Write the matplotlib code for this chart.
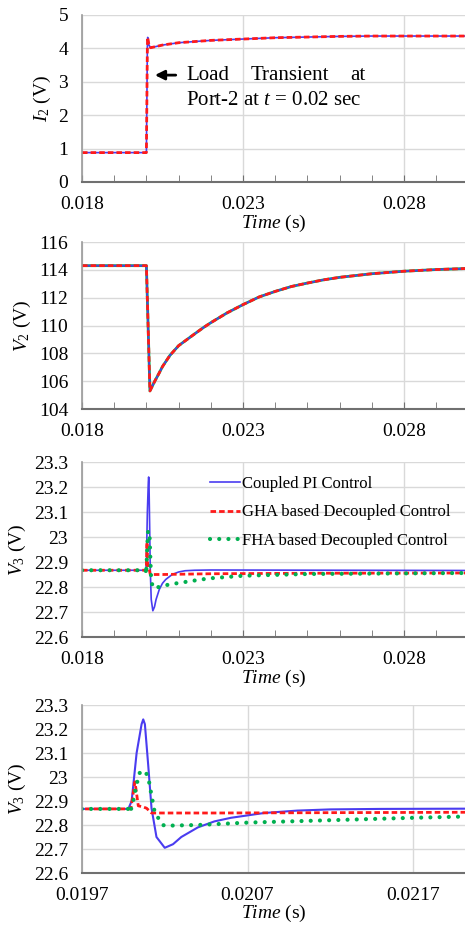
import matplotlib
matplotlib.use("Agg")
import matplotlib.pyplot as plt
from matplotlib.ticker import FixedLocator, MultipleLocator, FuncFormatter

plt.rcParams["font.family"] = ["Liberation Serif", "DejaVu Serif"]
plt.rcParams["mathtext.fontset"] = "custom"
plt.rcParams["mathtext.rm"] = "Liberation Serif"
plt.rcParams["mathtext.it"] = "Liberation Serif:italic"
plt.rcParams["font.size"] = 14

# tick positions
xticks_wide = [0.018, 0.023, 0.028]
xminor_wide = [0.019, 0.020, 0.021, 0.022, 0.024, 0.025, 0.026, 0.027, 0.029]
xticks_zoom = [0.0197, 0.0207, 0.0217]

# I2 step response at port 2
t_i2 = [0.018, 0.02000, 0.02003, 0.02004, 0.02008, 0.02013, 0.0205, 0.021,
        0.022, 0.023, 0.024, 0.025, 0.026, 0.027, 0.028, 0.030]
i2 = [0.88, 0.88, 4.05, 4.33, 4.10, 4.02, 4.10, 4.17,
      4.24, 4.28, 4.32, 4.34, 4.36, 4.37, 4.37, 4.37]

# V2 response
t_v2 = [0.018, 0.02000, 0.02011, 0.02026, 0.0204, 0.0205, 0.02073, 0.0210,
        0.0215, 0.02177, 0.0220, 0.0225, 0.0230, 0.0235, 0.0240, 0.0245,
        0.0250, 0.0255, 0.0260, 0.0270, 0.0280, 0.0290, 0.0300]
v2 = [114.3, 114.3, 105.3, 106.0, 106.6, 107.05, 107.85, 108.55,
      109.4, 109.85, 110.2, 110.9, 111.5, 112.05, 112.45, 112.8,
      113.05, 113.28, 113.46, 113.72, 113.9, 114.02, 114.1]

# V3 - coupled PI control
t_pi = [0.018, 0.01998, 0.02000, 0.02003, 0.02006, 0.02007, 0.02008, 0.02010,
        0.02012, 0.02015, 0.02020, 0.02025, 0.02030, 0.02040, 0.02050,
        0.02060, 0.02070, 0.02080, 0.02090, 0.02100, 0.02120, 0.02150,
        0.02200, 0.030]
v3_pi = [22.867, 22.867, 22.90, 23.10, 23.22, 23.24, 23.22, 23.05,
         22.87, 22.75, 22.705, 22.72, 22.75, 22.79, 22.815,
         22.83, 22.84, 22.85, 22.855, 22.86, 22.865, 22.867,
         22.868, 22.866]

# V3 - GHA based decoupled control
t_gha = [0.018, 0.019995, 0.02002, 0.02004, 0.02007, 0.02009, 0.02012,
         0.0205, 0.021, 0.022, 0.025, 0.030]
v3_gha = [22.867, 22.867, 22.98, 22.88, 22.875, 22.87, 22.85,
          22.85, 22.851, 22.853, 22.855, 22.856]

# V3 - FHA based decoupled control
t_fha = [0.018, 0.01998, 0.01999, 0.02001, 0.02003, 0.02005, 0.02008,
         0.02010, 0.020113, 0.02014, 0.02019, 0.0202, 0.0204, 0.0207,
         0.0212, 0.0217, 0.022, 0.023, 0.025, 0.030]
v3_fha = [22.867, 22.867, 22.85, 22.90, 22.97, 23.02, 23.025,
          23.0, 22.95, 22.85, 22.80, 22.797, 22.80, 22.81,
          22.82, 22.83, 22.835, 22.845, 22.852, 22.856]

labels = ["Coupled PI Control", "GHA based Decoupled Control",
          "FHA based Decoupled Control"]

BLUE = "#4a3cf0"
RED = "#ff1a1a"
GREEN = "#00b050"
W, H = 465, 927


def frame(ax, xlim, ylim, ystep, xticks, xminor=None):
    ax.set_xlim(*xlim)
    ax.set_ylim(*ylim)
    ax.yaxis.set_major_locator(MultipleLocator(ystep))
    ax.xaxis.set_major_locator(FixedLocator(xticks))
    if xminor:
        ax.xaxis.set_minor_locator(FixedLocator(xminor))
    ax.yaxis.set_major_formatter(FuncFormatter(lambda v, p: "{:g}".format(round(v, 4))))
    ax.xaxis.set_major_formatter(FuncFormatter(lambda v, p: "{:g}".format(round(v, 5))))
    ax.grid(True, color="#d9d9d9", lw=1)
    ax.set_axisbelow(True)
    for s in ["top", "right"]:
        ax.spines[s].set_visible(False)
    ax.spines["left"].set_color("#9a9a9a")
    ax.spines["bottom"].set_color("#707070")
    ax.spines["left"].set_linewidth(1.2)
    ax.spines["bottom"].set_linewidth(1.5)
    ax.tick_params(axis="y", length=0, pad=10)
    ax.tick_params(axis="x", which="both", direction="in", length=5,
                   color="#707070", pad=10)


def add_axes(fig, top, bottom, left=82, right=465):
    return fig.add_axes([left / W, 1 - bottom / H, (right - left) / W,
                         (bottom - top) / H])


def v3_lines(ax, lw_pi):
    ax.plot(t_pi, v3_pi, color=BLUE, lw=lw_pi, label=labels[0])
    ax.plot(t_gha, v3_gha, color=RED, lw=2, ls=(0, (2.0, 1.1)), label=labels[1])
    ax.plot(t_fha, v3_fha, color=GREEN, lw=3, ls=(0, (0.01, 2.2)),
            dash_capstyle="round", label=labels[2])


fig = plt.figure(figsize=(W / 100, H / 100), dpi=100)
x_end = 0.018 + 383 / 161 * 0.005

# Panel 1: I2
ax1 = add_axes(fig, 15, 182)
ax1.plot(t_i2, i2, color=BLUE, lw=1.2)
ax1.plot(t_i2, i2, color=RED, lw=2, ls=(0, (2.0, 1.1)))
frame(ax1, (0.018, x_end), (0, 5), 1, xticks_wide, xminor_wide)
ax1.set_ylabel("$I_2$ (V)")
ax1.set_xlabel(r"$\mathit{Time}$ (s)", labelpad=0)
ax1.annotate("", xy=(0.183, 0.64), xytext=(0.252, 0.64),
             xycoords="axes fraction",
             arrowprops=dict(arrowstyle="-|>", color="black", lw=2,
                             mutation_scale=14))
ax1.text(0.2715, 0.64, "Load", transform=ax1.transAxes, va="center",
         fontsize=15)
ax1.text(0.543, 0.64, "Transient", transform=ax1.transAxes, va="center",
         ha="center", fontsize=15)
ax1.text(0.739, 0.64, "at", transform=ax1.transAxes, va="center", ha="right",
         fontsize=15)
ax1.text(0.2715, 0.49, r"Port-2 at $t$ = $\mathit{0.02}$ sec",
         transform=ax1.transAxes, va="center", fontsize=15)

# Panel 2: V2
ax2 = add_axes(fig, 242, 409)
ax2.plot(t_v2, v2, color=GREEN, lw=2)
ax2.plot(t_v2, v2, color=BLUE, lw=1.2)
ax2.plot(t_v2, v2, color=RED, lw=2, ls=(0, (2.0, 1.1)))
frame(ax2, (0.018, x_end), (104, 116), 2, xticks_wide, xminor_wide)
ax2.set_ylabel("$V_2$ (V)")

# Panel 3: V3 overview
ax3 = add_axes(fig, 462, 637)
v3_lines(ax3, 1.2)
frame(ax3, (0.018, x_end), (22.6, 23.3), 0.1, xticks_wide, xminor_wide)
ax3.set_ylabel("$V_3$ (V)")
ax3.set_xlabel(r"$\mathit{Time}$ (s)", labelpad=0)
ax3.legend(loc="upper left", bbox_to_anchor=(0.334, 0.92), frameon=False,
           fontsize=12, handlelength=1.8, handletextpad=0.1,
           labelspacing=0.75, borderpad=0, borderaxespad=0)

# Panel 4: V3 zoom
ax4 = add_axes(fig, 705, 873)
v3_lines(ax4, 1.5)
frame(ax4, (0.0197, 0.0197 + 383 / 165.5 * 0.001), (22.6, 23.3), 0.1,
      xticks_zoom)
ax4.tick_params(axis="x", length=0)
ax4.set_ylabel("$V_3$ (V)")
ax4.set_xlabel(r"$\mathit{Time}$ (s)", labelpad=-1)

fig.savefig("out.png", dpi=100)
